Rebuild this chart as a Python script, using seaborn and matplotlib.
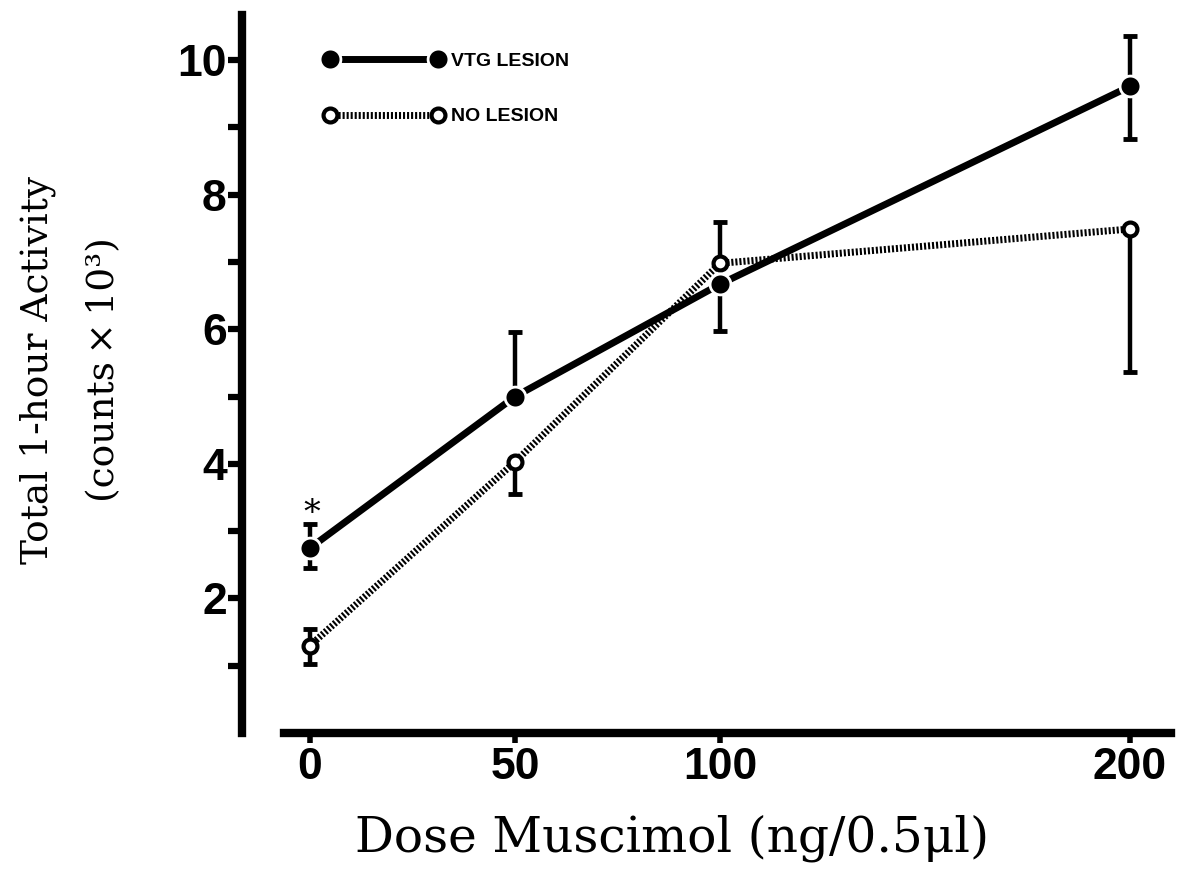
import matplotlib
matplotlib.use("Agg")
import matplotlib.pyplot as plt
import seaborn as sns
from matplotlib.ticker import MultipleLocator, FixedLocator

# ---- data ----
dose = [0, 50, 100, 200]
dose_ticks = [0, 50, 100, 200]
vtg_mean = [2.75, 5.00, 6.67, 9.61]
vtg_err_lo = [0.30, 0.00, 0.70, 0.78]
vtg_err_hi = [0.35, 0.96, 0.00, 0.75]
nol_mean = [1.30, 4.03, 6.98, 7.49]
nol_err_lo = [0.27, 0.48, 0.00, 2.13]
nol_err_hi = [0.25, 0.00, 0.62, 0.00]
series_labels = ["VTG LESION", "NO LESION"]
y_major = [2, 4, 6, 8, 10]

sns.set_style("white")
plt.rcParams["font.family"] = ["Liberation Sans", "DejaVu Sans"]
plt.rcParams["lines.scale_dashes"] = False
for k in ["text.color", "axes.labelcolor", "xtick.color", "ytick.color"]:
    plt.rcParams[k] = "black"

fig = plt.figure(figsize=(11.79, 8.77), dpi=100)
ax = fig.add_axes([0.2053, 0.1642, 0.7914, 0.8187])

# error bars (drawn under the markers)
ax.errorbar(dose, vtg_mean, yerr=[vtg_err_lo, vtg_err_hi], fmt="none",
            ecolor="black", elinewidth=3.2, capsize=5, capthick=3.5, zorder=2)
ax.errorbar(dose, nol_mean, yerr=[nol_err_lo, nol_err_hi], fmt="none",
            ecolor="black", elinewidth=3.2, capsize=5, capthick=3.5, zorder=2)

sns.lineplot(x=dose, y=vtg_mean, ax=ax, color="black", lw=5,
             marker="o", markersize=15, markerfacecolor="black",
             markeredgecolor="white", markeredgewidth=2,
             label=series_labels[0], zorder=4)
sns.lineplot(x=dose, y=nol_mean, ax=ax, color="black", lw=5,
             linestyle=(0, (1.5, 1.4)), dash_capstyle="butt",
             marker="o", markersize=10, markerfacecolor="white",
             markeredgecolor="black", markeredgewidth=3,
             label=series_labels[1], zorder=3)

# significance asterisk above first VTG point
ax.annotate("*", xy=(dose[0], vtg_mean[0] + vtg_err_hi[0]), xytext=(1, -4),
            textcoords="offset points", ha="center", va="bottom",
            fontsize=24, fontfamily="DejaVu Serif", color="black")

ax.set_xlim(-16.6, 211)
ax.set_ylim(0, 10.67)

for s in ["top", "right"]:
    ax.spines[s].set_visible(False)
ax.spines["left"].set_linewidth(6)
ax.spines["bottom"].set_linewidth(6)
ax.spines["left"].set_color("black")
ax.spines["bottom"].set_color("black")
ax.spines["bottom"].set_bounds(-6.3, 210)

ax.xaxis.set_major_locator(FixedLocator(dose_ticks))
ax.yaxis.set_major_locator(FixedLocator(y_major))
ax.yaxis.set_minor_locator(MultipleLocator(2, offset=1))
ax.tick_params(axis="y", which="both", direction="out", left=True,
               length=10, width=4.5, color="black", pad=1)
ax.tick_params(axis="x", which="major", direction="out", bottom=True,
               length=7, width=4, color="black", pad=3)
for lab in ax.get_xticklabels() + ax.get_yticklabels():
    lab.set_fontweight("bold")
    lab.set_fontsize(32)
    lab.set_fontfamily("Liberation Sans")
    lab.set_color("black")

ax.set_xlabel("Dose Muscimol (ng/0.5μl)", fontfamily="DejaVu Serif",
              fontsize=35, va="top", color="black")
ax.xaxis.set_label_coords(0.461, -0.113)
ax.set_ylabel("Total 1-hour Activity\n(counts\u2009×\u200910³)",
              fontfamily="DejaVu Serif", fontsize=27, linespacing=2.1,
              color="black")
ax.yaxis.set_label_coords(-0.128, 0.506)

handles, labels = ax.get_legend_handles_labels()
ax.legend(handles, labels, loc="upper left", bbox_to_anchor=(0.088, 0.948),
          numpoints=2, handlelength=6.15, handletextpad=0.35,
          labelspacing=1.95, frameon=False, borderaxespad=0, borderpad=0,
          prop={"family": "Liberation Sans", "weight": "bold", "size": 14})

fig.savefig("out.png", dpi=100, facecolor="white")
